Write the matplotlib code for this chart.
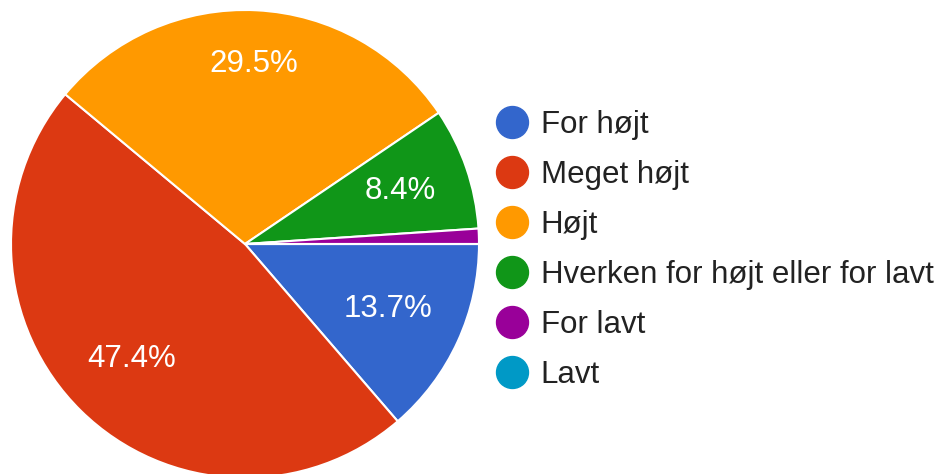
import matplotlib

matplotlib.use("Agg")
import matplotlib.pyplot as plt
from matplotlib.lines import Line2D
import numpy as np

plt.rcParams["font.family"] = ["Liberation Sans", "DejaVu Sans"]

# answer counts per option (n = 95)
categories = ["For højt", "Meget højt", "Højt", "Hverken for højt eller for lavt", "For lavt", "Lavt"]
counts = [13, 45, 28, 8, 1, 0]
colors = ["#3366cc", "#dc3912", "#ff9900", "#109618", "#990099", "#0099c6"]

# how far from the centre each percentage label sits (fraction of radius)
label_radius = [0.67, 0.69, 0.77, 0.70, 0.7, 0.7]

W, H = 942, 474
fig = plt.figure(figsize=(W / 100, H / 100), dpi=100)

cx, cy, r = 245, 244, 234  # pie centre / radius in pixels (from top-left)
ax = fig.add_axes([(cx - r) / W, (H - cy - r) / H, 2 * r / W, 2 * r / H])

wedges, _, autotexts = ax.pie(
    counts,
    colors=colors,
    startangle=0,
    counterclock=False,
    radius=1,
    autopct=lambda p: f"{p:.1f}%" if p >= 5 else "",
    pctdistance=0.7,
    wedgeprops=dict(edgecolor="white", linewidth=1.5),
    textprops=dict(color="white", fontsize=22.5),
)

# place the labels at the middle angle of each slice
for w, t, rad in zip(wedges, autotexts, label_radius):
    mid = np.deg2rad((w.theta1 + w.theta2) / 2)
    t.set_position((rad * np.cos(mid), rad * np.sin(mid)))
    t.set_ha("center")
    t.set_va("center")

ax.set_xlim(-1, 1)
ax.set_ylim(-1, 1)
ax.set_aspect("equal")
ax.axis("off")

handles = [
    Line2D([], [], marker="o", linestyle="none", markersize=23,
           markerfacecolor=c, markeredgecolor=c)
    for c in colors
]
fig.legend(
    handles,
    categories,
    loc="upper left",
    bbox_to_anchor=(496 / W, 1 - 110 / H),
    frameon=False,
    fontsize=22.5,
    labelcolor="#222222",
    handlelength=1.0,
    handletextpad=0.43,
    labelspacing=0.64,
    borderpad=0,
    borderaxespad=0,
)

fig.savefig("out.png", dpi=100)
